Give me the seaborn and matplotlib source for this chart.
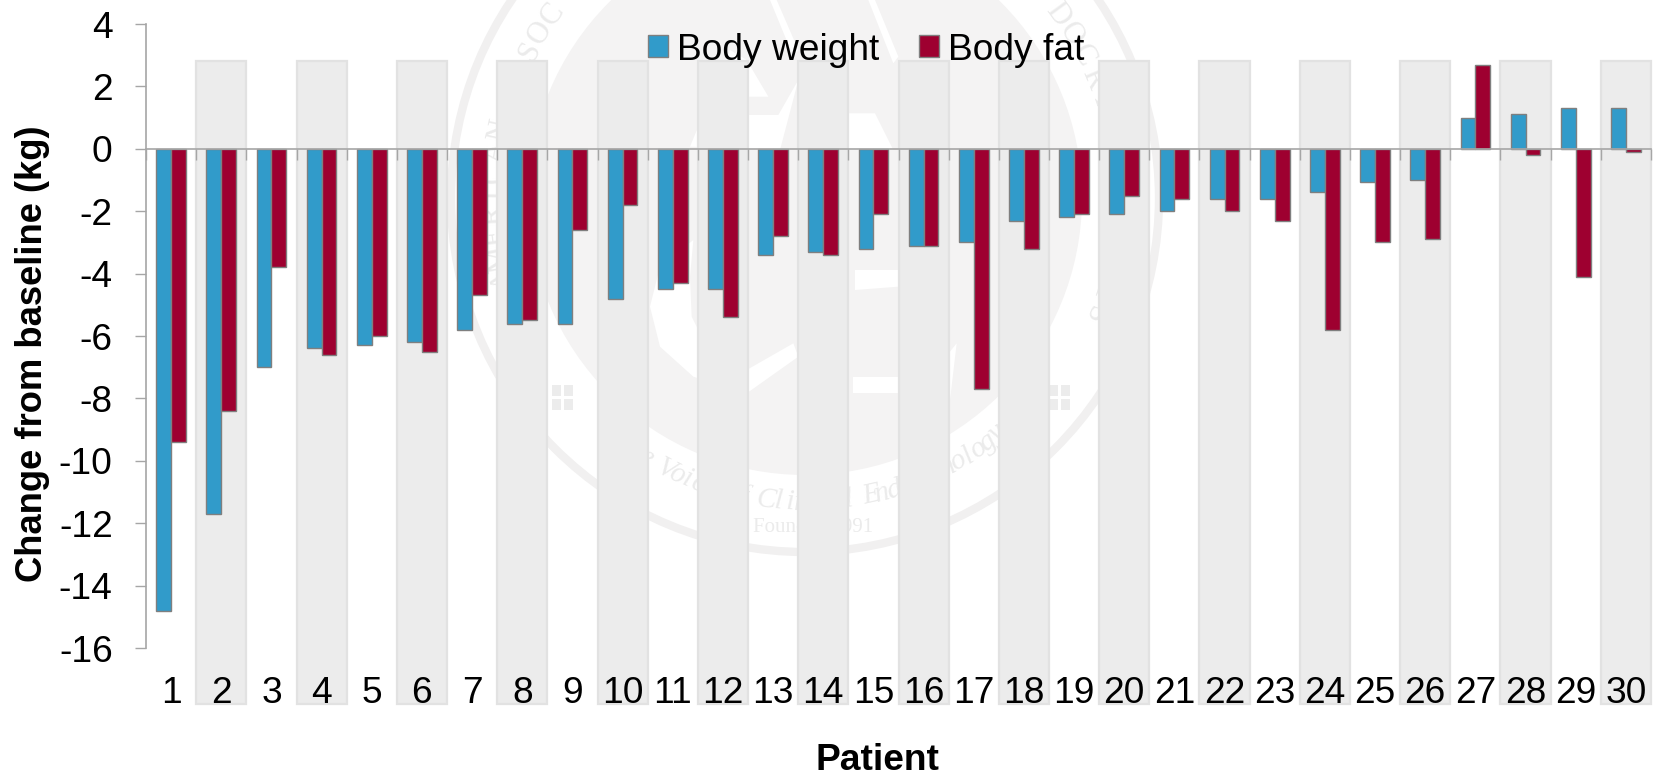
import numpy as np
import pandas as pd
import matplotlib
matplotlib.use("Agg")
import matplotlib.pyplot as plt
from matplotlib.patches import Circle, Patch, Polygon, Rectangle
from matplotlib.ticker import FixedLocator
import seaborn as sns

patients = list(range(1, 31))
body_weight = [-14.8, -11.7, -7.0, -6.4, -6.3, -6.2, -5.8, -5.6, -5.6, -4.8,
               -4.5, -4.5, -3.4, -3.3, -3.2, -3.1, -3.0, -2.3, -2.2, -2.1,
               -2.0, -1.6, -1.6, -1.4, -1.05, -1.0, 1.0, 1.1, 1.3, 1.3]
body_fat = [-9.4, -8.4, -3.8, -6.6, -6.0, -6.5, -4.7, -5.5, -2.6, -1.8,
            -4.3, -5.4, -2.8, -3.4, -2.1, -3.1, -7.7, -3.2, -2.1, -1.5,
            -1.6, -2.0, -2.3, -5.8, -3.0, -2.9, 2.7, -0.2, -4.1, -0.1]
series_names = ["Body weight", "Body fat"]
series_colors = ["#319BCA", "#9E0030"]
y_ticks = list(range(-16, 5, 2))

sns.set_theme(style="white")
plt.rcParams["font.family"] = ["Liberation Sans", "DejaVu Sans"]
plt.rcParams["axes.unicode_minus"] = False

W, H = 1657, 777
fig = plt.figure(figsize=(W / 100, H / 100), dpi=100, facecolor="white")

# faint seal in the background, in pixel coordinates
bg = fig.add_axes([0, 0, 1, 1], zorder=0)
bg.set_xlim(0, W)
bg.set_ylim(H, 0)
bg.axis("off")
wm_ring = "#F1F0F0"
wm_text = "#EBEBEB"
wm_disc = "#F4F3F3"
cx, cy, r = 805, 198, 354
bg.add_patch(Circle((cx, cy), r, fill=False, ec=wm_ring, lw=6))
bg.add_patch(Circle((cx, cy), 277, fc=wm_disc, ec="none"))


def z2p(points):
    return [(560 + x / 3, y / 3) for x, y in points]


white_shapes = [
    [(390, 440), (510, 150), (560, 180), (625, 290), (565, 290), (565, 345), (655, 345),
     (715, 240), (660, 450)],
    [(866, 340), (945, 340), (1000, 450), (866, 450)],
    [(400, 720), (300, 800), (270, 920), (300, 1040), (400, 1130), (560, 1180), (715, 1070),
     (700, 1030), (560, 1110), (450, 1060), (395, 950), (390, 830)],
    [(880, 1130), (1015, 1130), (1015, 1180), (880, 1180)],
    [(885, 810), (1015, 810), (1015, 860), (885, 870)],
    [(1150, 1080), (1190, 1030), (1170, 1200), (1120, 1200)],
    [(630, 0), (650, 0), (715, 150), (700, 170)],
    [(925, 0), (945, 0), (1015, 170), (1000, 190)],
]
for shape in white_shapes:
    bg.add_patch(Polygon(z2p(shape), closed=True, fc="white", ec="none"))


def arc_text(s, radius, a0, a1, size, bottom=False, **kw):
    for ch, a in zip(s, np.linspace(a0, a1, len(s))):
        t = np.deg2rad(a)
        x, y = cx + radius * np.sin(t), cy - radius * np.cos(t)
        rot = 180 - a if bottom else -a
        bg.text(x, y, ch, rotation=rot, ha="center", va="center", fontsize=size,
                color=wm_text, rotation_mode="anchor", **kw)


arc_text("AMERICAN ASSOC", 312, -105, -54, 22, family="Liberation Serif")
arc_text("DOCRINOLOGISTS", 312, 54, 112, 22, family="Liberation Serif")
arc_text("The Voice of Clinical Endocrinology", 305, 216, 141, 21, bottom=True,
         family="Liberation Serif", style="italic")
bg.text(813, 528, "Founded 1991", ha="center", va="center", fontsize=15, color=wm_text,
        family="Liberation Serif")
for sx in (561, 1058):
    for dx in (-9, 3):
        for dy in (-12, 2):
            bg.add_patch(Rectangle((sx + dx, 397 + dy), 9, 11, fc="#ECECEC", ec="none"))

ax = fig.add_axes([146 / W, 1 - 648 / H, (1651 - 146) / W, (648 - 24) / H], zorder=1)
ax.patch.set_alpha(0)

long = pd.DataFrame({
    "Patient": patients * 2,
    "Series": [series_names[0]] * 30 + [series_names[1]] * 30,
    "Change": body_weight + body_fat,
})

# alternating grey bands behind even-numbered patients
for i in range(1, 30, 2):
    ax.bar(i, 2.82 + 17.8, bottom=-17.8, width=1.0, color="#ECECEC", edgecolor="#E2E2E2",
           linewidth=1.6, clip_on=False, zorder=0.5)

sns.barplot(data=long, x="Patient", y="Change", hue="Series", hue_order=series_names,
            palette=series_colors, width=0.59, gap=0, saturation=1, edgecolor="#7F7F7F",
            linewidth=1.0, ax=ax, zorder=2, legend=False)

ax.set_xlim(-0.5, 29.5)
ax.set_ylim(-16, 4)
ax.set_yticks(y_ticks)
ax.set_xticks(range(30))
ax.set_xticklabels([str(p) for p in patients])
ax.xaxis.set_minor_locator(FixedLocator(np.arange(-0.5, 30, 1)))

for s in ("top", "right"):
    ax.spines[s].set_visible(False)
ax.spines["bottom"].set_position(("data", 0))
for s in ("left", "bottom"):
    ax.spines[s].set_color("#A6A6A6")
    ax.spines[s].set_linewidth(1.2)
    ax.spines[s].set_zorder(3)

ax.tick_params(axis="x", which="major", length=0, pad=(678 - 149) * 0.72 - 1, labelsize=26.7,
               labelcolor="black")
ax.tick_params(axis="x", which="minor", bottom=True, length=8, width=1.0, color="#A6A6A6")
ax.tick_params(axis="y", which="major", left=True, length=8, width=1.0, color="#A6A6A6", pad=16,
               labelsize=26.7, labelcolor="black")

ax.set_xlabel("")
ax.set_ylabel("")
fig.text(877 / W, 1 - 761 / H, "Patient", ha="center", va="center", fontsize=26.7,
         fontweight="bold", color="black")
fig.text(33 / W, 1 - 354 / H, "Change from baseline (kg)", rotation=90, ha="center", va="center",
         fontsize=26.2, fontweight="bold", color="black")

handles = [Patch(facecolor=c, edgecolor="#7F7F7F", linewidth=1.0, label=n)
           for c, n in zip(series_colors, series_names)]
ax.legend(handles=handles, loc="center", bbox_to_anchor=(866 / W, 1 - 50 / H),
          bbox_transform=fig.transFigure, ncol=2, frameon=False, fontsize=26.7,
          handlelength=0.54, handleheight=0.54, handletextpad=0.23, columnspacing=1.08,
          borderpad=0, labelcolor="black")

fig.savefig("out.png", dpi=100, facecolor="white")
